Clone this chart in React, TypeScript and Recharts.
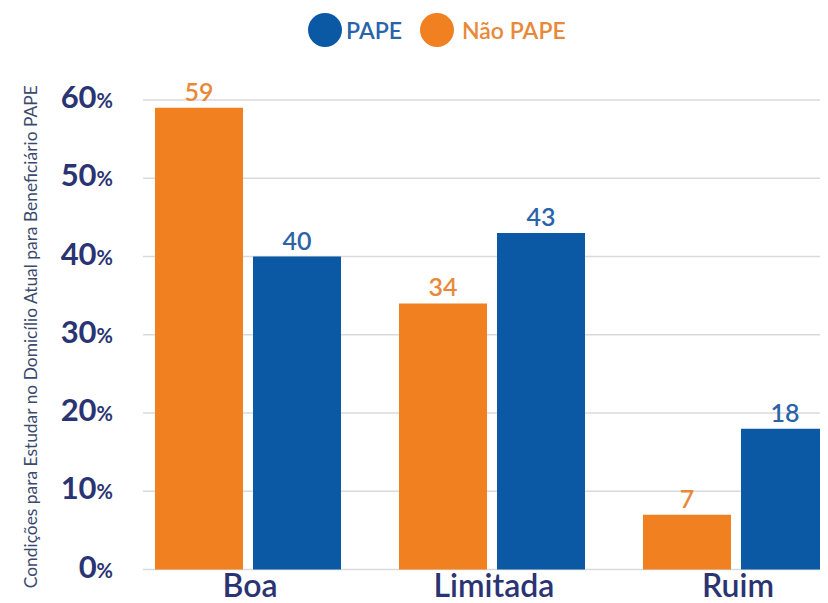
import { BarChart, Bar, XAxis, YAxis, CartesianGrid, Legend, LabelList, Label } from "recharts";

const categories = ["Boa", "Limitada", "Ruim"];
const naoPape = [59, 34, 7];
const pape = [40, 43, 18];
const yTicks = [0, 10, 20, 30, 40, 50, 60];

const ORANGE = "#F08020";
const BLUE = "#0B58A5";
const ORANGE_TEXT = "#E8893A";
const BLUE_TEXT = "#2A64A8";
const NAVY = "#2B3473";
const FONT = "Lato, 'Open Sans', sans-serif";

const data = categories.map((c, i) => ({ name: c, naoPape: naoPape[i], pape: pape[i] }));

const YTick = (props: any) => {
	const { x, y, payload } = props;
	return (
		<text x={x} y={y} dy={8} textAnchor="end" fontFamily={FONT} fill={NAVY}>
			<tspan fontSize={31} fontWeight={700}>{payload.value}</tspan>
			<tspan fontSize={20} fontWeight={700}>%</tspan>
		</text>
	);
};

const XTick = (props: any) => {
	const { x, y, payload } = props;
	return (
		<text x={x + 2} y={y + 27} textAnchor="middle" fontFamily={FONT} fontSize={32} fontWeight={600} fill={NAVY}>
			{payload.value}
		</text>
	);
};

const YTitle = (props: any) => {
	const vb = props.viewBox;
	const cx = 30;
	const cy = vb.y + vb.height / 2 + 2;
	return (
		<text
			x={cx}
			y={cy}
			transform={`rotate(-90, ${cx}, ${cy})`}
			textAnchor="middle"
			dominantBaseline="central"
			fontFamily={FONT}
			fontSize={17.4}
			fill="#3A4A6E"
		>
			Condições para Estudar no Domicílio Atual para Beneficiário PAPE
		</text>
	);
};

const GridLine = (props: any) => (
	<line
		key={props.key}
		x1={props.x1 + 17}
		x2={props.x2}
		y1={props.y1}
		y2={props.y2}
		stroke="#DADADA"
		strokeWidth={1.5}
	/>
);

const LegendContent = () => {
	const items = [
		{ label: "PAPE", color: BLUE, text: BLUE_TEXT, gap: 4 },
		{ label: "Não PAPE", color: ORANGE, text: ORANGE_TEXT, gap: 8 },
	];
	return (
		<div style={{ display: "flex", alignItems: "center" }}>
			{items.map((it) => (
				<div key={it.label} style={{ display: "flex", alignItems: "center", marginRight: 18 }}>
					<svg width={34} height={34}>
						<circle cx={17} cy={17} r={17} fill={it.color} />
					</svg>
					<span style={{ marginLeft: it.gap, fontFamily: FONT, fontSize: 23, fontWeight: 600, color: it.text }}>
						{it.label}
					</span>
				</div>
			))}
		</div>
	);
};

export default function App() {
	return (
		<div style={{ margin: "-8px 0 0 -8px", width: 828, height: 603, overflow: "hidden", background: "#fff" }}>
			<BarChart
				width={858}
				height={603}
				data={data}
				margin={{ top: 100, right: 0, bottom: 0, left: 0 }}
				barCategoryGap={29}
				barGap={10}
			>
				<CartesianGrid vertical={false} horizontal={GridLine} />
				<Legend
					verticalAlign="middle"
					align="center"
					layout="horizontal"
					content={LegendContent}
					wrapperStyle={{ top: 13, left: 308, width: 340, height: 34 }}
				/>
				<XAxis
					dataKey="name"
					height={33.5}
					axisLine={false}
					tickLine={false}
					tickSize={0}
					tickMargin={0}
					tick={XTick}
				/>
				<YAxis
					width={126}
					domain={[0, 60]}
					ticks={yTicks}
					axisLine={false}
					tickLine={false}
					tickSize={0}
					tickMargin={13}
					tick={YTick}
				>
					<Label content={YTitle} />
				</YAxis>
				<Bar dataKey="naoPape" fill={ORANGE} isAnimationActive={false}>
					<LabelList dataKey="naoPape" position="top" offset={7} fill={ORANGE_TEXT} fontSize={25} fontWeight={600} fontFamily={FONT} />
				</Bar>
				<Bar dataKey="pape" fill={BLUE} isAnimationActive={false}>
					<LabelList dataKey="pape" position="top" offset={7} fill={BLUE_TEXT} fontSize={25} fontWeight={600} fontFamily={FONT} />
				</Bar>
			</BarChart>
		</div>
	);
}
